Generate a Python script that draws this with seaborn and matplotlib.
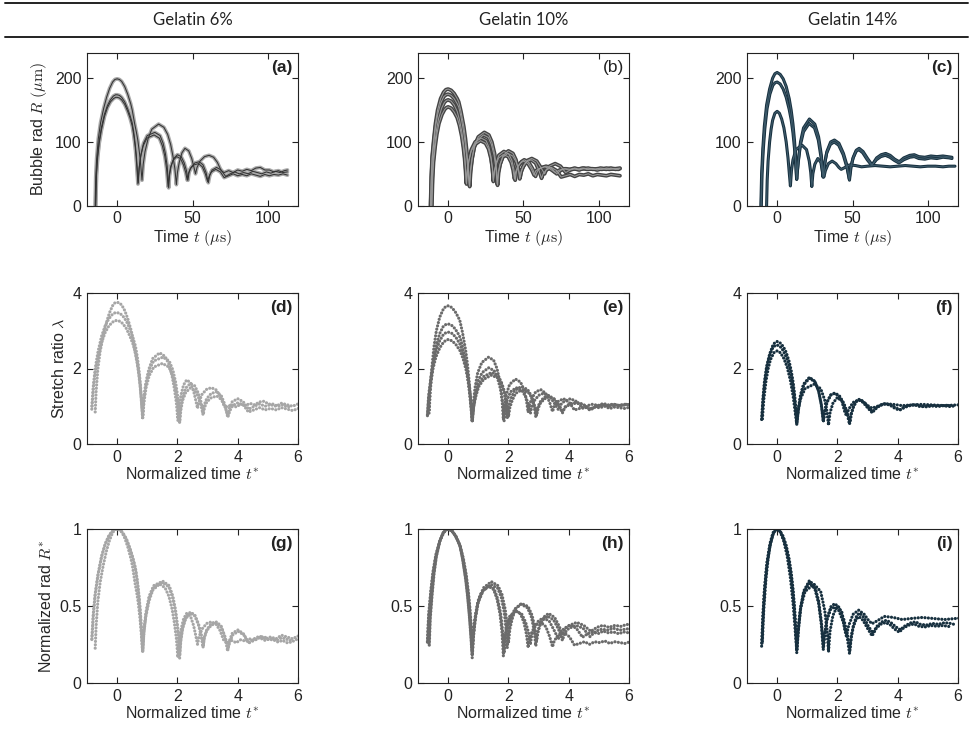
import numpy as np
import pandas as pd
import matplotlib
matplotlib.use('Agg')
import matplotlib.pyplot as plt
import seaborn as sns

# ---- bubble radius R (um) vs time t (us) ----
# gelatin 6%
a1 = [(-14.6,0),(-14.2,45),(-13.6,74),(-12.5,105),(-11,130),(-9,152),(-7,170),(-5,184),(-3,194),(-1.5,198),(0,199),
      (1.5,198),(3,195),(5,187),(7,175),(9,160),(10,150),(11.5,130),(12.8,115),(13.7,103),(14.8,83),(15.7,62),(16.5,40),
      (17.3,65),(18.5,85),(20.5,105),(23,120),(27.5,128),(31,123),(33.5,112),(35.5,96),(37,78),(38.3,58),(39.3,33),
      (40,52),(41.2,68),(43,83),(45,90),(47.5,86),(49.5,74),(51,60),(52,50),
      (53,60),(55,70),(58,77),(61,79),(64,76),(66.5,68),(69,55),
      (71,52),(74,55),(77,52),(80,56),(83,54),(86,57),(89,55),(92,59),(95,60),(98,56),(101,56),(104,53),(107,55),(110,52),(113,53)]
a2 = [(-14.3,0),(-13.8,50),(-13,78),(-12,100),(-10.5,122),(-8.5,143),(-6.5,157),(-4.5,166),(-2.5,172),(-1,174),(0,174),
      (1.5,173),(3,170),(5,163),(7,152),(8.5,142),(10,130),(11,116),(12,97),(12.7,80),(13.3,60),(14,36),
      (14.7,60),(15.8,80),(17.5,98),(20,110),(25,115),(28.5,110),(30.5,98),(32,82),(33.2,62),(34.2,28),
      (34.8,48),(35.8,62),(37.5,74),(40,80),(42.5,77),(44.5,67),(46,55),(47,40),
      (47.7,52),(49,60),(51.5,67),(54.5,69),(57,64),(59,52),(60.5,36),
      (61.5,48),(63,56),(66,60),(69,56),(72,46),
      (75,50),(78,53),(81,50),(84,52),(87,50),(90,54),(93,52),(96,50),(99,53),(102,51),(105,54),(108,52),(111,55),(113,56)]
a3 = [(-14.2,0),(-13.7,48),(-12.9,76),(-11.9,98),(-10.4,119),(-8.4,140),(-6.4,154),(-4.4,163),(-2.4,168),(-1,170),(0,170),
      (1.5,169),(3,166),(5,159),(7,148),(8.5,138),(10,125),(11,111),(12,92),(12.6,76),(13.2,56),(13.8,34),
      (14.5,58),(15.6,77),(17.3,94),(19.8,106),(24.5,111),(28,106),(30,94),(31.6,78),(32.8,58),(33.8,30),
      (34.4,46),(35.4,60),(37.1,71),(39.5,77),(42,74),(44,64),(45.5,52),(46.5,40),
      (47.2,50),(48.5,58),(51,64),(54,66),(56.5,61),(58.5,50),(60,38),
      (61,46),(62.5,53),(65.5,57),(68.5,53),(71,44),
      (74,47),(77,50),(80,47),(83,49),(86,47),(89,50),(92,48),(95,46),(98,49),(101,47),(104,49),(107,48),(110,50),(113,48)]

# gelatin 10%
b1 = [(-11.7,0),(-11.2,45),(-10.6,77),(-9.5,105),(-8.4,129),(-7,150),(-5,168),(-3,178),(-1.5,182),(0,183),
      (2,181),(4,176),(6,168),(7,163),(8.5,148),(10.4,124),(11.5,105),(12.6,80),(13.5,55),(14.3,30),
      (15,55),(16,75),(17.5,94),(20,108),(24,115),(27,111),(29,100),(30.8,82),(32,60),(32.8,32),
      (33.5,52),(34.6,66),(36.5,79),(40,86),(43,82),(45,72),(46.5,58),(47.5,42),
      (48.3,52),(49.8,61),(52,69),(55,72),(58,67),(60.3,55),(62,43),
      (63,50),(65,56),(68.5,60),(72,55),(75,45),
      (78,47),(81,49),(84,46),(87,49),(90,48),(93,50),(96,47),(99,49),(102,48),(105,47),(108,49),(111,48),(114,47)]
b2 = [(-11.6,0),(-11.1,45),(-10.5,75),(-9.4,102),(-8.3,125),(-6.9,144),(-4.9,161),(-2.9,171),(-1.4,174),(0,175),
      (2,173),(4,168),(6,160),(7,155),(8.5,140),(10.2,117),(11.3,98),(12.4,75),(13.3,52),(14,32),
      (14.7,53),(15.7,72),(17.2,91),(19.7,104),(23.5,111),(26.7,107),(28.7,96),(30.5,79),(31.7,58),(32.5,34),
      (33.2,52),(34.3,64),(36.2,76),(39.5,82),(42.8,78),(45,69),(46.7,57),(47.8,45),
      (48.7,56),(50.3,64),(52.6,71),(55.5,74),(58.8,70),(61.5,60),(64,50),
      (65.2,57),(67.3,62),(71,66),(74.5,62),(78,52),
      (81,56),(84,58),(87,56),(90,59),(93,57),(96,58),(99,56),(102,58),(105,57),(108,59),(111,57),(114,58)]
b3 = [(-11,0),(-10.5,44),(-9.9,72),(-8.8,98),(-7.7,119),(-6.3,137),(-4.3,153),(-2.5,162),(-1.2,165),(0,166),
      (2,164),(4,158),(6,148),(7.5,135),(9,117),(10.2,97),(11,78),(11.7,57),(12.2,34),
      (12.9,55),(13.9,72),(15.4,88),(17.9,100),(22,106),(25.2,102),(27,92),(28.5,76),(29.4,58),(30,38),
      (30.7,55),(31.8,67),(33.6,79),(37,85),(40.3,81),(42.3,71),(43.6,57),(44.5,40),
      (45.3,53),(46.6,62),(48.6,69),(50.5,72),(53.5,68),(56,58),(58,46),
      (59.2,54),(61.3,59),(65,62),(68.5,59),(72,50),
      (75,56),(78,58),(81,57),(84,59),(87,57),(90,58),(93,59),(96,57),(99,58),(102,57),(105,59),(108,58),(111,58),(114,59)]
b4 = [(-10.8,0),(-10.3,42),(-9.7,68),(-8.6,93),(-7.5,112),(-6.1,129),(-4.1,143),(-2.3,151),(-1,154),(0,155),
      (2,153),(4,147),(6,138),(7.5,126),(9,109),(10.1,91),(10.9,74),(11.5,56),(12,36),
      (12.7,55),(13.7,70),(15.2,85),(17.7,96),(21.5,102),(24.8,98),(26.8,89),(28.4,74),(29.4,58),(30,40),
      (30.7,54),(31.8,64),(33.5,75),(36.5,80),(39.8,77),(41.8,68),(43.1,56),(44,42),
      (44.8,53),(46,61),(48,67),(50,70),(53,66),(55.3,57),(57,48),
      (58.2,55),(60.3,58),(64,61),(67.5,58),(71,52),
      (74,56),(77,58),(80,56),(83,58),(86,57),(89,59),(92,57),(95,58),(98,57),(101,59),(104,58),(107,57),(110,58),(113,57)]

# gelatin 14%
c1 = [(-10.8,0),(-10.3,50),(-9.5,90),(-8.5,125),(-7,158),(-5,183),(-3,200),(-1.5,207),(0,209),
      (2,206),(4,199),(6,187),(8,168),(9.3,150),(10.5,128),(11.5,103),(12.3,75),(13,41),
      (14,70),(15.5,100),(17.5,122),(21.4,136),(25,128),(27.5,108),(29.3,80),(30.6,45),
      (31.5,65),(33,85),(35.5,100),(38,103),(41,98),(44,82),(46.5,62),(48,40),
      (49,60),(50.5,76),(52.5,87),(54.4,90),(57,85),(60,74),(63,64),
      (66,75),(69,80),(72,82),(75,79),(78,73),(81,69),
      (84,75),(88,79),(91,80),(94,77),(98,76),(102,78),(106,77),(110,78),(113,77),(116,76)]
c2 = [(-10.5,0),(-10,50),(-9.2,88),(-8.2,120),(-6.7,152),(-4.8,175),(-2.8,189),(-1.3,193),(0,194),
      (2,191),(4,183),(6,170),(8,151),(9.3,135),(10.5,114),(11.5,90),(12.3,65),(12.9,42),
      (14,68),(15.5,96),(17.5,116),(21.2,129),(24.8,122),(27.3,103),(29.1,76),(30.4,45),
      (31.3,63),(32.8,82),(35.3,96),(37.8,100),(40.8,95),(43.8,80),(46.3,60),(47.8,42),
      (48.8,60),(50.3,74),(52.3,85),(54.2,88),(56.8,83),(59.8,72),(62.8,63),
      (65.8,72),(68.8,77),(71.8,79),(74.8,76),(77.8,71),(80.8,67),
      (84,72),(88,76),(91,77),(94,74),(98,73),(102,75),(106,74),(110,76),(114,75),(116,74)]
c3 = [(-7,0),(-6.6,40),(-6,70),(-5,100),(-4,120),(-3,134),(-1.5,145),(0,148),
      (1.5,145),(3,136),(4.5,122),(6,100),(7.2,75),(8.1,50),(8.8,31),
      (9.5,55),(10.5,72),(12.5,88),(16.5,95),(19.5,88),(21.3,70),(22.3,52),(23,30),
      (23.7,50),(25,65),(27,74),(29,68),(30.2,52),(31,45),
      (32,55),(34,66),(36.5,70),(39,66),(41,60),(42.5,57),
      (45,60),(48,64),(52,63),(56,61),(60,62),(65,63),(70,62),(75,61),(80,62),(85,63),(90,62),(95,61),
      (100,62),(105,62),(110,61),(114,62),(118,62)]

# equilibrium radius (um) and collapse time (us) of each run
req_6 = [53, 50, 52]
req_10 = [50, 55, 56, 56]
req_14 = [77, 74, 60]
tc_6 = [19.5, 16.5, 16.3]
tc_10 = [17.9, 17.5, 15.3, 15.0]
tc_14 = [20.0, 19.8, 13.5]

gel_labels = ['Gelatin 6%', 'Gelatin 10%', 'Gelatin 14%']
panel_labels = [['(a)', '(b)', '(c)'], ['(d)', '(e)', '(f)'], ['(g)', '(h)', '(i)']]


def make_frame(curves, req, tc):
    frames = []
    for k, (pts, r_eq, t_c) in enumerate(zip(curves, req, tc)):
        pts = np.array(pts, dtype=float)
        df = pd.DataFrame({'curve': k, 't': pts[:, 0], 'R': pts[:, 1]})
        df['lam'] = df['R'] / r_eq
        df['tstar'] = df['t'] / t_c
        df['rstar'] = df['R'] / df['R'].max()
        frames.append(df)
    return pd.concat(frames, ignore_index=True)


data = [make_frame([a1, a2, a3], req_6, tc_6),
        make_frame([b1, b2, b3, b4], req_10, tc_10),
        make_frame([c1, c2, c3], req_14, tc_14)]

# row-1 line styling (outer halo, inner line) and dot colour for rows 2-3
halo = ['#aaaaaa', '#444444', '#17303f']
core = ['#333333', '#9a9a9a', '#3f5c6c']
halo_lw = [2.7, 2.7, 2.2]
dots = ['#a6a6a6', '#6b6b6b', '#17303f']

sns.set_style('ticks')
plt.rcParams['font.family'] = ['Liberation Sans', 'DejaVu Sans']
plt.rcParams['mathtext.fontset'] = 'cm'
plt.rcParams['axes.linewidth'] = 0.8
head_font = ['Lato', 'DejaVu Sans']

fig = plt.figure(figsize=(9.73, 7.37), dpi=100)

lefts = [87, 418, 747]
rows = [(52.7, 153), (293, 151), (529, 154)]
W, H = 973.0, 737.0

for r, (top, h) in enumerate(rows):
    for c in range(3):
        ax = fig.add_axes([lefts[c] / W, 1 - (top + h) / H, 211 / W, h / H])
        df = data[c]
        if r == 0:
            sns.lineplot(data=df, x='t', y='R', units='curve', estimator=None, sort=False,
                         color=halo[c], lw=halo_lw[c], ax=ax)
            sns.lineplot(data=df, x='t', y='R', units='curve', estimator=None, sort=False,
                         color=core[c], lw=0.75, ax=ax)
            ax.set_xlim(-20, 120)
            ax.set_ylim(0, 240)
            ax.set_xticks([0, 50, 100])
            ax.set_yticks([0, 100, 200])
            ax.set_xlabel(r'Time $t$ $(\mu\mathrm{s})$', fontsize=11.5)
            ylab = r'Bubble rad $R$ $(\mu\mathrm{m})$'
        else:
            sub = df[df['R'] > 0]
            ycol = 'lam' if r == 1 else 'rstar'
            sns.lineplot(data=sub, x='tstar', y=ycol, units='curve', estimator=None, sort=False,
                         color=dots[c], lw=2.3, linestyle=(0, (0.01, 1.05)),
                         dash_capstyle='round', ax=ax)
            ax.set_xlim(-1, 6)
            ax.set_xticks([0, 2, 4, 6])
            if r == 1:
                ax.set_ylim(0, 4)
                ax.set_yticks([0, 2, 4])
                ylab = r'Stretch ratio $\lambda$'
            else:
                ax.set_ylim(0, 1)
                ax.set_yticks([0, 0.5, 1])
                ax.set_yticklabels(['0', '0.5', '1'])
                ylab = r'Normalized rad $R^{*}$'
            ax.set_xlabel(r'Normalized time $t^{*}$', fontsize=11.5)
        ax.set_ylabel(ylab if c == 0 else '', fontsize=11.5)
        ax.xaxis.labelpad = 1
        ax.tick_params(direction='in', top=True, right=True, length=4, width=0.8,
                       labelsize=11.5, colors='#222222', pad=4)
        for s in ax.spines.values():
            s.set_color('#222222')
            s.set_linewidth(0.8)
        lab = panel_labels[r][c]
        ax.text(0.975, 0.955, lab, transform=ax.transAxes, ha='right', va='top',
                fontsize=12.5, fontweight='normal' if lab == '(b)' else 'bold', color='#222222')

# header band
for yy in [1 - 3 / H, 1 - 37 / H]:
    fig.add_artist(plt.Line2D([0.005, 0.995], [yy, yy], color='#222222', lw=1.4,
                              transform=fig.transFigure))
for c in range(3):
    fig.text((lefts[c] + 105.5) / W, 1 - 20 / H, gel_labels[c], ha='center', va='center',
             family=head_font, fontsize=12, color='#222222')

fig.savefig('out.png', dpi=100)
